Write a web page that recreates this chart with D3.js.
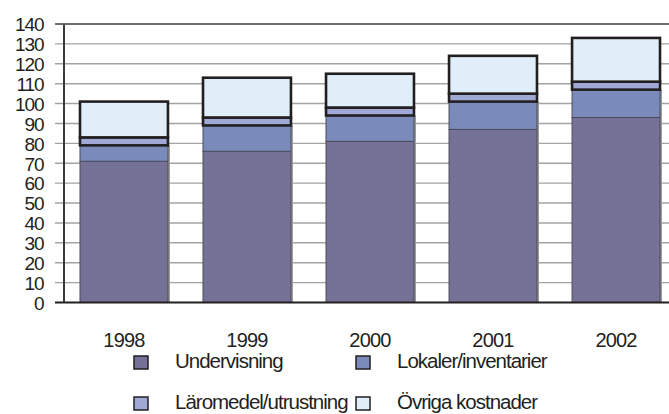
<!DOCTYPE html>
<html>
<head>
<meta charset="utf-8">
<script src="https://cdn.jsdelivr.net/npm/d3@7"></script>
<style>
  body { margin: 0; background: #fff; }
  svg { display: block; }
  text { font-family: "Liberation Sans", Arial, sans-serif; fill: #231f20; }
</style>
</head>
<body>
<div class="visualisation"></div>
<script>
// DATA
var years = ["1998", "1999", "2000", "2001", "2002"];
var series = ["Undervisning", "Lokaler/inventarier", "Läromedel/utrustning", "Övriga kostnader"];
var undervisning = [71, 76, 81, 87, 93];
var lokaler      = [8, 13, 13, 14, 14];
var laromedel    = [4, 4, 4, 4, 4];
var ovriga       = [18, 20, 17, 19, 22];
var yTicks = [0, 10, 20, 30, 40, 50, 60, 70, 80, 90, 100, 110, 120, 130, 140];

var colors = ["#767196", "#7a8abb", "#a0a9d6", "#e0eef9"];
var heavy  = [false, false, true, true];

// CANVAS
var width = 669, height = 414;
var svg = d3.select(".visualisation").append("svg")
    .attr("width", width)
    .attr("height", height);

var rows = years.map(function(y, i){
  return {year: y, "Undervisning": undervisning[i], "Lokaler/inventarier": lokaler[i],
          "Läromedel/utrustning": laromedel[i], "Övriga kostnader": ovriga[i]};
});
var stacked = d3.stack().keys(series)(rows);

// SCALES
var x = d3.scaleBand().domain(years).range([64, 676]).paddingInner(0.285).paddingOuter(0.13);
var y = d3.scaleLinear().domain([0, 140]).range([302.5, 24]);

// GRID
svg.append("g").selectAll("line")
    .data(yTicks.filter(function(d){ return d > 0; }))
  .enter().append("line")
    .attr("x1", 55).attr("x2", 669)
    .attr("y1", function(d){ return y(d); })
    .attr("y2", function(d){ return y(d); })
    .attr("stroke", function(d){ return d === 140 ? "#6e6e6e" : "#a3a3a3"; })
    .attr("stroke-width", function(d){ return d === 140 ? 2 : 1.4; });

// Y AXIS
var yAxis = svg.append("g")
    .attr("transform", "translate(63.5,0)")
    .call(d3.axisLeft(y).tickValues(yTicks).tickSize(0).tickPadding(20));
yAxis.select(".domain").attr("stroke", "#3a3a3a").attr("stroke-width", 2);
yAxis.selectAll("text")
    .attr("font-size", 19)
    .attr("letter-spacing", "-1.1px")
    .attr("font-family", "Liberation Sans, Arial, sans-serif")
    .attr("fill", "#231f20")
    .attr("dy", "0.36em");

// BARS
var layers = svg.append("g").selectAll("g")
    .data(stacked)
  .enter().append("g")
    .attr("fill", function(d, i){ return colors[i]; });

// soft shadow on right edge
layers.filter(function(d, i){ return i < 2; }).selectAll("rect.shadow")
    .data(function(d){ return d; })
  .enter().append("rect")
    .attr("x", function(d){ return x(d.data.year) + x.bandwidth(); })
    .attr("y", function(d){ return y(d[1]); })
    .attr("width", 2)
    .attr("height", function(d){ return y(d[0]) - y(d[1]); })
    .attr("fill", "#9a9a9a");

layers.each(function(layer, i){
  d3.select(this).selectAll("rect.seg")
      .data(layer)
    .enter().append("rect")
      .attr("class", "seg")
      .attr("x", function(d){ return x(d.data.year); })
      .attr("y", function(d){ return y(d[1]); })
      .attr("width", x.bandwidth())
      .attr("height", function(d){ return y(d[0]) - y(d[1]); })
      .attr("stroke", heavy[i] ? "#231f20" : "#4a4a5a")
      .attr("stroke-width", heavy[i] ? 2.6 : 1);
});

// baseline
svg.append("line")
    .attr("x1", 55).attr("x2", 669)
    .attr("y1", y(0)).attr("y2", y(0))
    .attr("stroke", "#231f20").attr("stroke-width", 2);

// X LABELS
svg.append("g").selectAll("text")
    .data(years)
  .enter().append("text")
    .attr("x", function(d){ return x(d) + x.bandwidth() / 2; })
    .attr("y", 347)
    .attr("text-anchor", "middle")
    .attr("font-size", 20)
    .attr("letter-spacing", "-0.8px")
    .text(function(d){ return d; });

// LEGEND
var legendPos = [[134, 356], [356, 356], [134, 397], [356, 397]];
var legend = svg.append("g").selectAll("g")
    .data(series)
  .enter().append("g")
    .attr("transform", function(d, i){ return "translate(" + legendPos[i][0] + "," + legendPos[i][1] + ")"; });

legend.append("rect")
    .attr("x", 0).attr("y", 0)
    .attr("width", 14).attr("height", 13)
    .attr("fill", function(d, i){ return colors[i]; })
    .attr("stroke", "#231f20")
    .attr("stroke-width", 1.5);

legend.append("text")
    .attr("x", 41)
    .attr("y", 12)
    .attr("font-size", 20.5)
    .attr("letter-spacing", "-1px")
    .text(function(d){ return d; });
</script>
</body>
</html>
